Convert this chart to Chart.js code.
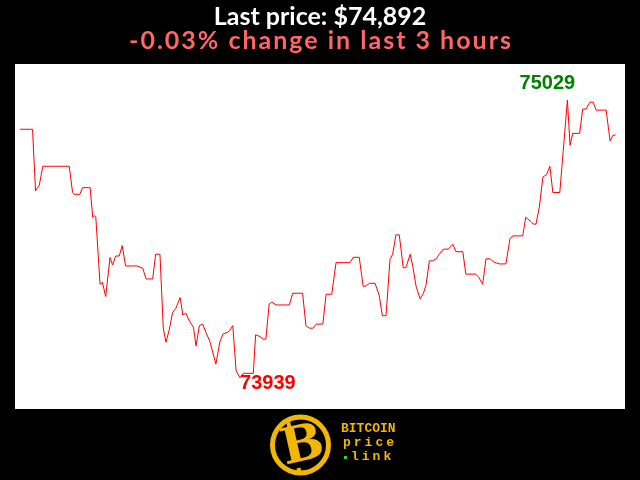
<!DOCTYPE html>
<html>
<head>
<meta charset="utf-8">
<script src="https://cdn.jsdelivr.net/npm/chart.js@4"></script>
<style>
  html, body { margin: 0; padding: 0; background: #000; }
  canvas { display: block; }
</style>
</head>
<body>
<canvas id="myChart" width="640" height="480"></canvas>
<script>
// Minutes since the start of the 3 hour window.
const times = [0, 3.8, 4.7, 5.2, 5.8, 6.9, 14.9, 15.9, 16.4, 18.1,
    18.9, 21.2, 22.0, 22.5, 22.9, 24.2, 24.9, 25.9, 27.2, 28.0,
    28.9, 30.0, 30.9, 31.9, 35.4, 37.1, 38.1, 40.1, 41.0, 42.3,
    43.3, 44.1, 45.1, 46.1, 47.1, 48.4, 49.2, 50.1, 51.2, 52.4,
    53.2, 54.2, 55.2, 56.2, 57.4, 59.2, 60.4, 61.4, 62.6, 63.3,
    64.3, 65.3, 66.5, 67.5, 70.5, 71.2, 72.5, 73.5, 74.3, 75.3,
    76.1, 77.4, 81.4, 82.4, 85.4, 86.4, 87.4, 88.5, 89.5, 91.5,
    92.5, 94.2, 95.5, 99.7, 100.7, 102.5, 103.7, 104.6, 105.6, 107.3,
    108.5, 109.5, 110.6, 111.8, 112.6, 113.6, 114.6, 115.8, 116.6, 117.9,
    118.7, 119.7, 120.9, 121.9, 122.7, 123.7, 124.6, 125.6, 126.7, 127.9,
    129.4, 130.8, 131.7, 133.8, 134.7, 137.7, 138.7, 139.8, 140.8, 142.0,
    143.2, 144.8, 146.8, 148.1, 149.0, 151.9, 152.8, 154.4, 155.1, 155.9,
    156.9, 158.0, 159.1, 160.1, 161.0, 163.1, 165.4, 166.2, 167.0, 169.1,
    170.0, 171.0, 172.2, 173.2, 174.1, 177.1, 178.3, 179.1, 180.0];

// BTC price in USD at each of those times.
const prices = [74914, 74914, 74672, 74683, 74692, 74769, 74769, 74666, 74659, 74659,
    74685, 74685, 74568, 74575, 74572, 74306, 74314, 74258, 74411, 74382,
    74417, 74417, 74458, 74378, 74378, 74369, 74327, 74327, 74424, 74424,
    74134, 74079, 74127, 74195, 74212, 74254, 74186, 74193, 74162, 74138,
    74064, 74144, 74150, 74117, 74081, 73993, 74081, 74112, 74117, 74123,
    74144, 73966, 73939, 73957, 73957, 74108, 74101, 74091, 74091, 74229,
    74236, 74225, 74225, 74271, 74271, 74144, 74134, 74134, 74150, 74150,
    74267, 74267, 74391, 74391, 74412, 74412, 74297, 74300, 74310, 74310,
    74264, 74183, 74183, 74404, 74424, 74500, 74500, 74371, 74371, 74424,
    74375, 74297, 74249, 74271, 74304, 74398, 74398, 74404, 74424, 74444,
    74444, 74463, 74434, 74434, 74346, 74346, 74332, 74306, 74406, 74406,
    74393, 74386, 74386, 74487, 74496, 74496, 74569, 74552, 74542, 74542,
    74607, 74727, 74736, 74769, 74666, 74666, 75029, 74851, 74898, 74898,
    74993, 74993, 75020, 75020, 74989, 74989, 74868, 74890, 74892];

const titleText = 'Last price: $74,892';
const subtitleText = '-0.03% change in last 3 hours';

const GOLD = '#f2b705';

// Black page, white plot box.
const backgroundPlugin = {
    id: 'background',
    beforeDraw(chart) {
        const { ctx, chartArea } = chart;
        ctx.save();
        ctx.fillStyle = '#000';
        ctx.fillRect(0, 0, chart.width, chart.height);
        ctx.fillStyle = '#fff';
        ctx.fillRect(chartArea.left, chartArea.top,
            chartArea.right - chartArea.left, chartArea.bottom - chartArea.top);
        ctx.restore();
    }
};

// Second header line, a bit more spaced out than the first one.
const changeLinePlugin = {
    id: 'changeLine',
    afterDraw(chart) {
        const ctx = chart.ctx;
        ctx.save();
        ctx.font = 'bold 25px Lato, sans-serif';
        ctx.letterSpacing = '2px';
        ctx.fillStyle = '#ff6666';
        ctx.textAlign = 'center';
        ctx.textBaseline = 'alphabetic';
        ctx.fillText(subtitleText, 321, 49);
        ctx.restore();
    }
};

// High / low labels next to the extreme points.
const extremesPlugin = {
    id: 'extremes',
    afterDatasetsDraw(chart) {
        const { ctx, scales } = chart;
        const hi = prices.indexOf(Math.max(...prices));
        const lo = prices.indexOf(Math.min(...prices));
        ctx.save();
        ctx.font = 'bold 20px "Liberation Sans", Arial, sans-serif';
        ctx.textBaseline = 'middle';

        ctx.fillStyle = '#008000';
        ctx.textAlign = 'center';
        ctx.fillText(String(prices[hi]), scales.x.getPixelForValue(times[hi]) - 20,
            scales.y.getPixelForValue(prices[hi]) - 16);

        ctx.fillStyle = '#ff0000';
        ctx.textAlign = 'left';
        ctx.fillText(String(prices[lo]), scales.x.getPixelForValue(times[lo]),
            scales.y.getPixelForValue(prices[lo]) + 6);
        ctx.restore();
    }
};

// The "Bitcoin price link" badge under the chart.
const logoPlugin = {
    id: 'logo',
    afterDraw(chart) {
        const ctx = chart.ctx;
        const cx = 300.5, cy = 445, r = 28;
        ctx.save();
        ctx.strokeStyle = GOLD;
        ctx.lineWidth = 5;
        ctx.beginPath();
        ctx.arc(cx, cy, r, 0, Math.PI * 2);
        ctx.stroke();

        ctx.translate(cx, cy);
        ctx.rotate(-0.22);
        ctx.fillStyle = GOLD;
        ctx.font = 'bold 50px "DejaVu Serif", serif';
        ctx.textAlign = 'center';
        ctx.textBaseline = 'middle';
        ctx.fillText('B', 2, 3);
        ctx.fillRect(-9, -26, 4, 7);
        ctx.fillRect(-9, 22, 4, 6);
        ctx.restore();

        ctx.save();
        ctx.fillStyle = GOLD;
        ctx.font = 'bold 13px "Liberation Mono", "DejaVu Sans Mono", monospace';
        ctx.textBaseline = 'middle';
        ctx.textAlign = 'left';
        ctx.fillText('BITCOIN', 341, 429);
        ctx.letterSpacing = '3px';
        ctx.fillText('price', 343, 443);
        ctx.fillText('link', 351, 457);
        ctx.letterSpacing = '0px';
        ctx.fillStyle = '#2ecc40';
        ctx.fillRect(344, 456, 3, 3);
        ctx.restore();
    }
};

document.addEventListener('DOMContentLoaded', () => {
    const ctx = document.getElementById('myChart').getContext('2d');

    new Chart(ctx, {
        type: 'line',
        data: {
            datasets: [{
                label: 'BTC price',
                data: times.map((t, i) => ({ x: t, y: prices[i] })),
                borderColor: '#ff0000',
                borderWidth: 1,
                pointRadius: 0,
                tension: 0,
                fill: false,
            }]
        },
        options: {
            responsive: false,
            animation: false,
            devicePixelRatio: 1,
            layout: {
                padding: { top: 0, left: 15, right: 15, bottom: 71 }
            },
            plugins: {
                legend: { display: false },
                tooltip: { enabled: false },
                title: {
                    display: true,
                    text: titleText,
                    color: '#ffffff',
                    font: { family: 'Lato', size: 25, weight: 'bold', lineHeight: 1 },
                    padding: { top: 4, bottom: 35 },
                }
            },
            scales: {
                x: {
                    type: 'linear',
                    display: false,
                    min: -1.5,
                    max: 182.8,
                },
                y: {
                    display: false,
                    min: 73817,
                    max: 75170,
                }
            }
        },
        plugins: [backgroundPlugin, extremesPlugin, changeLinePlugin, logoPlugin]
    });
});
</script>
</body>
</html>
